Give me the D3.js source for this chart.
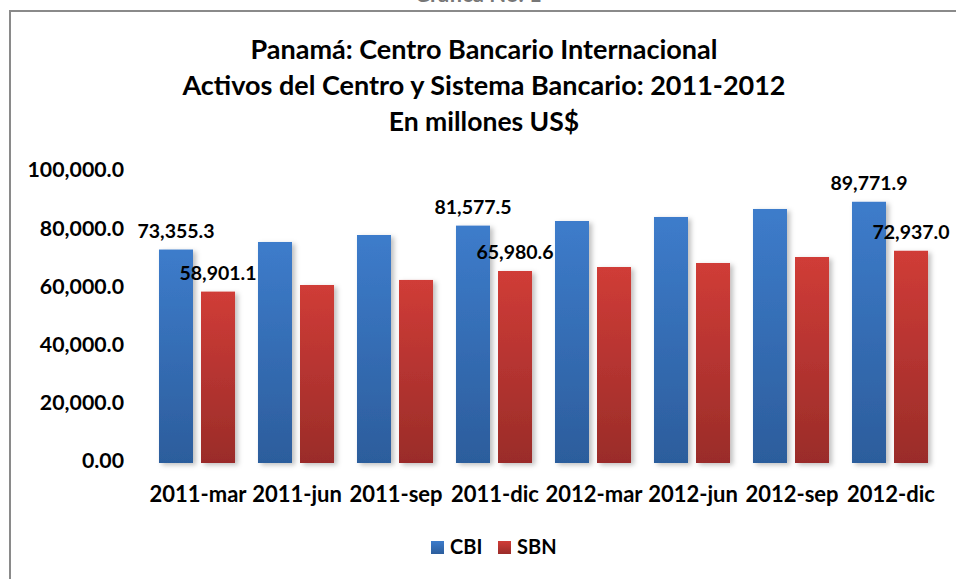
<!DOCTYPE html>
<html>
<head>
<meta charset="utf-8">
<script src="https://cdn.jsdelivr.net/npm/d3@7"></script>
<style>
  body { margin: 0; background: #fff; }
  svg { display: block; font-family: Lato, "Open Sans", sans-serif; font-weight: bold; }
</style>
</head>
<body>
<div id="chart"></div>
<script>
var periods = ["2011-mar", "2011-jun", "2011-sep", "2011-dic", "2012-mar", "2012-jun", "2012-sep", "2012-dic"];
var series = ["CBI", "SBN"];
var cbi = [73355.3, 75950, 78350, 81577.5, 83160, 84540, 87290, 89771.9];
var sbn = [58901.1, 61170, 62900, 65980.6, 67350, 68730, 70790, 72937.0];
var labelled = ["2011-mar", "2011-dic", "2012-dic"];
var yTicks = [0, 20000, 40000, 60000, 80000, 100000];
var titleLines = ["Panamá: Centro Bancario Internacional", "Activos del Centro y Sistema Bancario: 2011-2012", "En millones US$"];
var colors = { CBI: ["#3d7ccb", "#2c5d9c"], SBN: ["#d03c37", "#9a2c29"] };

const width = 956, height = 579;
var svg = d3.select("#chart").append("svg")
    .attr("width", width)
    .attr("height", height);

var defs = svg.append("defs");
series.forEach(function(s){
    var g = defs.append("linearGradient")
        .attr("id", "grad_" + s)
        .attr("x1", 0).attr("y1", 0).attr("x2", 0).attr("y2", 1);
    g.append("stop").attr("offset", "0%").attr("stop-color", colors[s][0]);
    g.append("stop").attr("offset", "100%").attr("stop-color", colors[s][1]);
});
var shadow = defs.append("filter").attr("id", "shadow")
    .attr("x", "-30%").attr("y", "-10%").attr("width", "160%").attr("height", "120%");
shadow.append("feDropShadow")
    .attr("dx", 3).attr("dy", 2).attr("stdDeviation", 2.5)
    .attr("flood-color", "#000").attr("flood-opacity", 0.25);

// frame (only top and left are in view)
svg.append("path")
    .attr("d", "M10," + height + "V11H" + width)
    .attr("fill", "none")
    .attr("stroke", "#8a8a8a")
    .attr("stroke-width", 2);

// caption, mostly above the top edge as in the source
svg.append("text")
    .attr("x", 478).attr("y", 2)
    .attr("text-anchor", "middle")
    .attr("font-size", 22)
    .attr("fill", "#777")
    .text("Gráfica No. 1");

// title
svg.append("g").selectAll("text")
    .data(titleLines)
    .enter().append("text")
    .attr("x", 484)
    .attr("y", (d, i) => 59 + i * 36)
    .attr("text-anchor", "middle")
    .attr("font-size", (d, i) => i == 2 ? 26.5 : 27)
    .attr("fill", "#000")
    .text(d => d);

var x = d3.scaleBand().domain(periods).range([147.5, 939.5]).paddingInner(0.232).paddingOuter(0.116);
var xs = d3.scaleBand().domain(series).range([0, x.bandwidth()]).paddingInner(8 / 42);
var y = d3.scaleLinear().domain([0, 100000]).range([463, 172]);
var fmt = d3.format(",.1f");

// y tick labels
svg.append("g").selectAll("text")
    .data(yTicks)
    .enter().append("text")
    .attr("x", 124)
    .attr("y", d => y(d))
    .attr("text-anchor", "end")
    .attr("dominant-baseline", "middle")
    .attr("font-size", 21.3)
    .text(d => d === 0 ? "0.00" : fmt(d));

var rows = periods.map(function(p, i){
    return { period: p, values: [{ s: "CBI", v: cbi[i] }, { s: "SBN", v: sbn[i] }] };
});

var groups = svg.append("g").selectAll("g")
    .data(rows)
    .enter().append("g")
    .attr("transform", d => "translate(" + x(d.period) + ",0)");

groups.selectAll("rect")
    .data(d => d.values)
    .enter().append("rect")
    .attr("x", d => xs(d.s))
    .attr("y", d => y(d.v))
    .attr("width", xs.bandwidth())
    .attr("height", d => y(0) - y(d.v))
    .attr("fill", d => "url(#grad_" + d.s + ")")
    .attr("filter", "url(#shadow)");

// value labels on a few periods
groups.filter(d => labelled.indexOf(d.period) >= 0)
    .selectAll("text")
    .data(d => d.values)
    .enter().append("text")
    .attr("x", d => xs(d.s) + xs.bandwidth() / 2)
    .attr("y", d => y(d.v) - 12)
    .attr("text-anchor", "middle")
    .attr("font-size", 19.5)
    .text(d => fmt(d.v));

// x axis line
svg.append("line")
    .attr("x1", 147).attr("x2", 940)
    .attr("y1", y(0) + 0.5).attr("y2", y(0) + 0.5)
    .attr("stroke", "#8a8a8a")
    .attr("stroke-width", 2)
    .attr("filter", "url(#shadow)");

// category labels
svg.append("g").selectAll("text")
    .data(periods)
    .enter().append("text")
    .attr("x", d => x(d) + x.bandwidth() / 2 + 1)
    .attr("y", 502)
    .attr("text-anchor", "middle")
    .attr("font-size", 22)
    .text(d => d);

// legend
var legend = svg.append("g").selectAll("g")
    .data(series)
    .enter().append("g")
    .attr("transform", (d, i) => "translate(" + (431 + i * 67) + ",541)");
legend.append("rect")
    .attr("width", 13).attr("height", 13)
    .attr("fill", d => "url(#grad_" + d + ")");
legend.append("text")
    .attr("x", 19).attr("y", 13)
    .attr("font-size", 20)
    .text(d => d);
</script>
</body>
</html>
